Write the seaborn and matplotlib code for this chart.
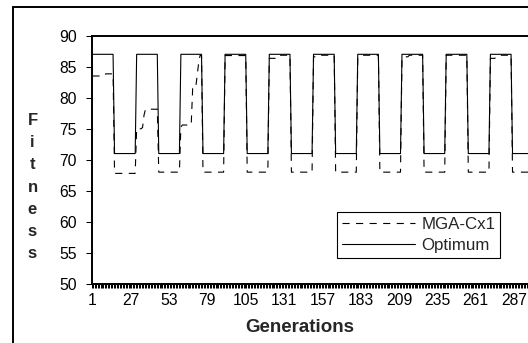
import numpy as np
import pandas as pd
import matplotlib
matplotlib.use("Agg")
import matplotlib.pyplot as plt
import seaborn as sns
from matplotlib.lines import Line2D
from matplotlib.patches import Rectangle

# ---------------- data (run-length encoded) ----------------
series_names = ["MGA-Cx1", "Optimum"]

optimum_levels = [87, 71, 87, 71, 87, 71, 87, 71, 87, 71,
                  87, 71, 87, 71, 87, 71, 87, 71, 87, 71]
optimum_runs = [15, 15, 15, 15, 15, 15, 15, 15, 15, 15,
                15, 15, 15, 15, 15, 15, 15, 15, 15, 15]

mga_levels = [83.5, 83.85, 67.8,
              75.0, 75.2, 77.2, 78.15, 68.0,
              75.3, 75.6, 81.5, 83.5, 85.5, 86.8, 68.0,
              86.8, 68.0,
              86.35, 86.85, 68.0,
              86.6, 86.85, 68.0,
              86.35, 86.6, 86.85, 68.0,
              86.35, 86.6, 86.85, 68.0,
              86.85, 68.0,
              86.35, 86.6, 86.85, 68.0]
mga_runs = [9, 6, 15,
            4, 1, 1, 9, 15,
            1, 7, 3, 1, 1, 2, 15,
            15, 15,
            7, 8, 15,
            2, 13, 15,
            3, 1, 11, 15,
            3, 2, 10, 15,
            15, 15,
            4, 3, 8, 15]

x_tick_labels = ["1", "27", "53", "79", "105", "131", "157", "183",
                 "209", "235", "261", "287"]
y_ticks = [50, 55, 60, 65, 70, 75, 80, 85, 90]

# ---------------- build table ----------------
optimum = np.repeat(optimum_levels, optimum_runs)
mga = np.repeat(mga_levels, mga_runs)
n = len(optimum)
generation = np.arange(1, n + 1)
df = pd.DataFrame({
    "pos": np.concatenate([generation - 1, generation - 1]),
    "Fitness": np.concatenate([mga, optimum]),
    "Series": [series_names[0]] * n + [series_names[1]] * n,
})

# ---------------- figure ----------------
sns.set_theme(style="white")
plt.rcParams["font.family"] = ["Liberation Sans", "DejaVu Sans"]

W, H = 528, 343
fig = plt.figure(figsize=(W / 100, H / 100), dpi=100)
fig.patch.set_facecolor("white")

left_px, top_px, bottom_px = 91.7, 35.7, 283.8
right_px = left_px + n * 1.474
ax = fig.add_axes([left_px / W, 1 - bottom_px / H,
                   (right_px - left_px) / W, (bottom_px - top_px) / H])
ax.set_facecolor("white")

dash_pat = (6.4, 5.8)
sns.lineplot(data=df, x="pos", y="Fitness", style="Series",
             style_order=series_names,
             dashes={series_names[0]: dash_pat, series_names[1]: ""},
             color="black", linewidth=0.8, legend=False, ax=ax,
             estimator=None, errorbar=None)

ax.set_xlim(-0.5, n - 0.5)
ax.set_ylim(50, 90)
ax.set_yticks(y_ticks)
ax.set_yticklabels([str(v) for v in y_ticks])
ax.set_xticks([int(t) - 1 for t in x_tick_labels])
ax.set_xticklabels(x_tick_labels)
ax.set_xticks(np.arange(-0.5, n, 1), minor=True)
ax.set_xlabel("")
ax.set_ylabel("")

ax.tick_params(axis="x", which="major", length=0, pad=6.5,
               labelsize=11.3, colors="black")
ax.tick_params(axis="x", which="minor", bottom=True, length=3.0, width=0.75,
               direction="out", color="black")
ax.tick_params(axis="y", which="major", left=True, length=4.3, width=0.75,
               direction="out", pad=6.5, labelsize=11.3, colors="black")

for s in ["top", "left", "bottom"]:
    ax.spines[s].set_visible(True)
    ax.spines[s].set_color("black")
    ax.spines[s].set_linewidth(1.4)
ax.spines["right"].set_visible(False)

# legend
handles = [Line2D([], [], color="black", lw=0.8, dashes=dash_pat),
           Line2D([], [], color="black", lw=0.8)]
leg = ax.legend(handles, series_names, loc="upper left",
                bbox_to_anchor=(337.3 / W, 1 - 212 / H),
                bbox_transform=fig.transFigure, borderaxespad=0,
                fontsize=12.2, handlelength=4.3, handletextpad=0.35,
                borderpad=0.3, labelspacing=0.35, frameon=True,
                fancybox=False, framealpha=1, edgecolor="black")
leg.get_frame().set_linewidth(0.8)

# axis titles
fig.text(300 / W, 1 - 328 / H, "Generations", ha="center", va="center",
         fontsize=13.5, fontweight="bold")
fig.text(32.5 / W, 1 - 187 / H, "\n".join("Fitness"), ha="center",
         va="center", fontsize=12, fontweight="bold", linespacing=1.6)

# outer chart border (cropped at right and bottom)
rect = Rectangle((13.3 / W, -1.0), 3.0, (1 - 7.3 / H) + 1.0,
                 transform=fig.transFigure, fill=False,
                 edgecolor="black", linewidth=1.4)
fig.add_artist(rect)

fig.savefig("out.png", dpi=100)
